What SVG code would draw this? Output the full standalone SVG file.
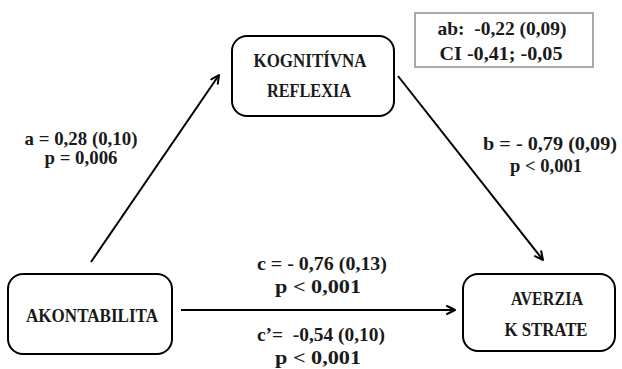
<svg xmlns="http://www.w3.org/2000/svg" width="622" height="369" viewBox="0 0 622 369">
  <style>
    .node { fill: #ffffff; stroke: #000000; stroke-width: 2; }
    .note { fill: #ffffff; stroke: #8c8c8c; stroke-width: 1.5; }
    .edge { stroke: #000000; stroke-width: 2; fill: none; marker-end: url(#head); }
  </style>
  <defs>
    <marker id="head" viewBox="0 0 10 10" refX="9" refY="5" markerWidth="5" markerHeight="5" orient="auto" markerUnits="strokeWidth">
      <path d="M1,1 L9,5 L1,9" fill="none" stroke="#000000" stroke-width="2" stroke-linecap="round" stroke-linejoin="round"/>
    </marker>
  </defs>
  <rect width="622" height="369" fill="#ffffff"/>

  <g id="connectors">
    <line class="edge" x1="91" y1="262" x2="219" y2="75"/>
    <line class="edge" x1="398" y1="76" x2="543" y2="260"/>
    <line class="edge" x1="181" y1="310" x2="455" y2="310"/>
  </g>

  <!-- all labels: bold Times-metric serif -->
  <g font-family="Liberation Serif, Times New Roman, serif" font-weight="bold" font-size="19" fill="#1a1a1a" text-anchor="middle" lengthAdjust="spacingAndGlyphs">
  <g id="kognitivna-reflexia">
    <rect class="node" x="232" y="36" width="162" height="80" rx="15"/>
    <text x="310" y="67" textLength="113" lengthAdjust="spacingAndGlyphs">KOGNITÍVNA</text>
    <text x="309" y="97" textLength="84" lengthAdjust="spacingAndGlyphs">REFLEXIA</text>
  </g>

  <g id="akontabilita">
    <rect class="node" x="8" y="274" width="164" height="80" rx="15"/>
    <text x="92" y="322" textLength="132" lengthAdjust="spacingAndGlyphs">AKONTABILITA</text>
  </g>

  <g id="averzia-k-strate">
    <rect class="node" x="463" y="274" width="152" height="77" rx="15"/>
    <text x="547" y="305" textLength="72" lengthAdjust="spacingAndGlyphs">AVERZIA</text>
    <text x="546" y="336" textLength="83" lengthAdjust="spacingAndGlyphs">K STRATE</text>
  </g>

  <g id="indirect-effect">
    <rect class="note" x="415" y="13" width="178" height="54"/>
    <text x="502" y="35" textLength="129" lengthAdjust="spacingAndGlyphs" xml:space="preserve">ab:  -0,22 (0,09)</text>
    <text x="501" y="60" textLength="123" lengthAdjust="spacingAndGlyphs">CI -0,41; -0,05</text>
  </g>

  <g id="path-a-label">
    <text x="81" y="145" textLength="113" lengthAdjust="spacingAndGlyphs">a = 0,28 (0,10)</text>
    <text x="81" y="164" textLength="73" lengthAdjust="spacingAndGlyphs">p = 0,006</text>
  </g>

  <g id="path-b-label">
    <text x="550" y="150" textLength="134" lengthAdjust="spacingAndGlyphs">b = - 0,79 (0,09)</text>
    <text x="546" y="172" textLength="72" lengthAdjust="spacingAndGlyphs">p &lt; 0,001</text>
  </g>

  <g id="path-c-label">
    <text x="322" y="270" textLength="130" lengthAdjust="spacingAndGlyphs">c = - 0,76 (0,13)</text>
    <text x="318" y="293" textLength="86" lengthAdjust="spacingAndGlyphs">p &lt; 0,001</text>
    <text x="321" y="341" textLength="128" lengthAdjust="spacingAndGlyphs" xml:space="preserve">c’=  -0,54 (0,10)</text>
    <text x="318" y="364" textLength="86" lengthAdjust="spacingAndGlyphs">p &lt; 0,001</text>
  </g>
  </g>
</svg>
